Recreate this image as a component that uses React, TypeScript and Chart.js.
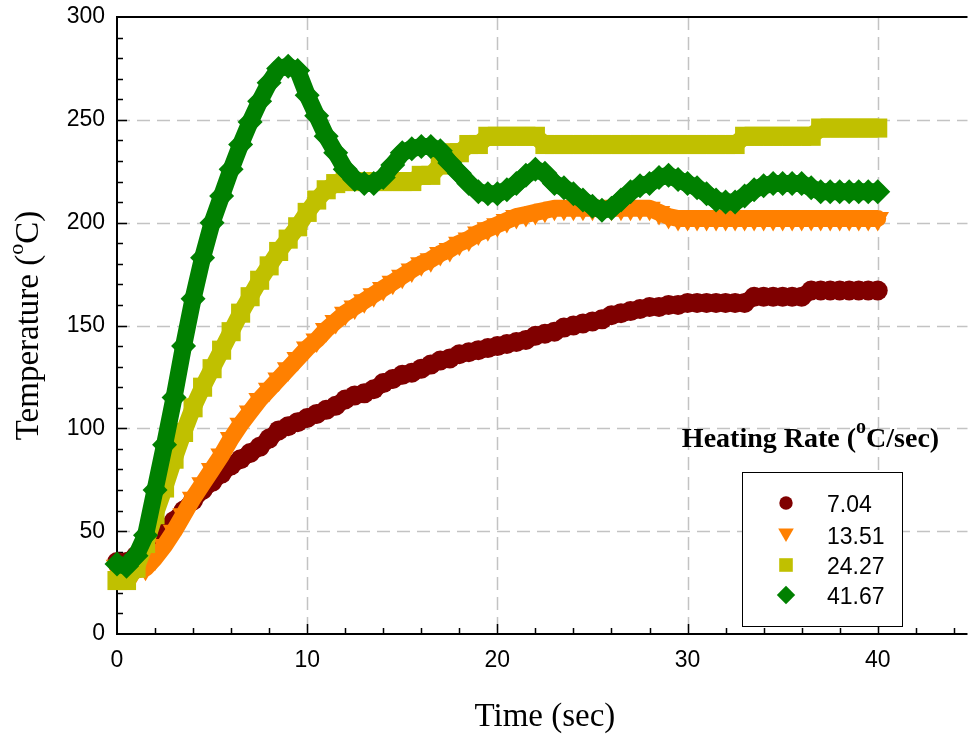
import React, { useEffect, useRef } from 'react';
import { Chart, registerables } from 'chart.js';

Chart.register(...registerables);

// ---- data ----
const TIME_SEC = [
  0, 0.5, 1, 1.5, 2, 2.5, 3, 3.5, 4, 4.5,
  5, 5.5, 6, 6.5, 7, 7.5, 8, 8.5, 9, 9.5,
  10, 10.5, 11, 11.5, 12, 12.5, 13, 13.5, 14, 14.5,
  15, 15.5, 16, 16.5, 17, 17.5, 18, 18.5, 19, 19.5,
  20, 20.5, 21, 21.5, 22, 22.5, 23, 23.5, 24, 24.5,
  25, 25.5, 26, 26.5, 27, 27.5, 28, 28.5, 29, 29.5,
  30, 30.5, 31, 31.5, 32, 32.5, 33, 33.5, 34, 34.5,
  35, 35.5, 36, 36.5, 37, 37.5, 38, 38.5, 39, 39.5,
  40,
];

const RATE_7_04 = [
  35, 35, 38, 42, 46, 51, 55, 60, 65, 70,
  74, 78, 82, 85, 88, 91, 95, 99, 101, 103,
  105, 107, 109, 111, 114, 116, 117, 119, 122, 124,
  126, 127, 129, 131, 133, 134, 136, 137, 138, 139,
  140, 141, 142, 143, 145, 146, 147, 149, 150, 151,
  152, 153, 155, 156, 157, 158, 159, 159, 160, 160,
  161, 161, 161, 161, 161, 161, 161, 164, 164, 164,
  164, 164, 164, 167, 167, 167, 167, 167, 167, 167,
  167,
];

const RATE_13_51 = [
  33, 31, 31, 32, 37, 43, 50, 58, 66, 73,
  80, 87, 95, 102, 108, 114, 119, 124, 129, 134,
  139, 143, 148, 152, 156, 159, 162, 165, 168, 171,
  174, 177, 180, 182, 185, 187, 190, 192, 195, 197,
  199, 201, 203, 204, 205, 206, 207, 207, 207, 207,
  207, 207, 207, 207, 207, 207, 207, 205, 203, 202,
  202, 202, 202, 202, 202, 202, 202, 202, 202, 202,
  202, 202, 202, 202, 202, 202, 202, 202, 202, 202,
  202,
];

const RATE_24_27 = [
  26, 26, 32, 44, 58, 71, 85, 98, 110, 120,
  129, 138, 147, 156, 164, 172, 179, 186, 192, 198,
  205, 211, 216, 219, 220, 220, 220, 220, 220, 220,
  220, 220, 223, 223, 228, 234, 234, 238, 238, 242,
  242, 242, 242, 242, 242, 238, 238, 238, 238, 238,
  238, 238, 238, 238, 238, 238, 238, 238, 238, 238,
  238, 238, 238, 238, 238, 238, 242, 242, 242, 242,
  242, 242, 242, 242, 246, 246, 246, 246, 246, 246,
  246,
];

const RATE_41_67 = [
  34, 33, 38, 48, 70, 92, 115, 140, 163, 183,
  200, 213, 226, 238, 249, 259, 268, 275, 276, 274,
  262, 252, 242, 234, 226, 221, 219, 219, 222, 228,
  234, 236, 237, 237, 235, 229, 224, 219, 215, 214,
  214, 216, 219, 223, 226, 224, 219, 217, 214, 211,
  208, 206, 207, 211, 215, 218, 219, 222, 223, 221,
  219, 217, 214, 211, 210, 210, 213, 216, 218, 219,
  219, 219, 219, 217, 215, 215, 215, 215, 215, 215,
  215,
];

const SERIES_NAMES = ['7.04', '13.51', '24.27', '41.67'];
const X_LABEL_TICKS = [0, 10, 20, 30, 40];
const Y_LABEL_TICKS = [0, 50, 100, 150, 200, 250, 300];

// ---- styling ----
const SANS = '"Liberation Sans", Arial, sans-serif';
const SERIF = '"Liberation Serif", "Times New Roman", serif';
const COLORS = ['#800000', '#FF8000', '#C0C000', '#008000'];
const X_MAX = 44.72;
const VIEW_W = 968;
const CANVAS_W = 981;
const CANVAS_H = 735;

type Part = { text: string; font: string; dy?: number };

function drawRich(ctx: CanvasRenderingContext2D, parts: Part[], x: number, y: number) {
  let total = 0;
  for (const p of parts) {
    ctx.font = p.font;
    total += ctx.measureText(p.text).width;
  }
  let cx = x - total / 2;
  ctx.textAlign = 'left';
  ctx.textBaseline = 'alphabetic';
  for (const p of parts) {
    ctx.font = p.font;
    ctx.fillText(p.text, cx, y + (p.dy || 0));
    cx += ctx.measureText(p.text).width;
  }
}

function drawMarker(ctx: CanvasRenderingContext2D, kind: number, x: number, y: number, color: string) {
  ctx.fillStyle = color;
  ctx.beginPath();
  if (kind === 0) {
    ctx.arc(x, y, 6.7, 0, Math.PI * 2);
  } else if (kind === 1) {
    ctx.moveTo(x - 7.8, y - 6.5);
    ctx.lineTo(x + 7.8, y - 6.5);
    ctx.lineTo(x, y + 7);
  } else if (kind === 2) {
    ctx.rect(x - 6.8, y - 6.8, 13.6, 13.6);
  } else {
    ctx.moveTo(x, y - 9.2);
    ctx.lineTo(x + 9.2, y);
    ctx.lineTo(x, y + 9.2);
    ctx.lineTo(x - 9.2, y);
  }
  ctx.closePath();
  ctx.fill();
}

const decorPlugin = {
  id: 'decor',
  beforeDatasetsDraw(chart: any) {
    const { ctx, chartArea: a, scales } = chart;
    const xs = scales.x;
    const ys = scales.y;
    ctx.save();
    // dashed grid
    ctx.strokeStyle = '#c3c3c3';
    ctx.lineWidth = 1.5;
    ctx.setLineDash([13, 7]);
    for (const v of X_LABEL_TICKS) {
      if (v === 0) continue;
      const px = Math.round(xs.getPixelForValue(v)) + 0.5;
      ctx.beginPath();
      ctx.moveTo(px, a.top);
      ctx.lineTo(px, a.bottom);
      ctx.stroke();
    }
    for (const v of Y_LABEL_TICKS) {
      if (v === 0 || v === 300) continue;
      const py = Math.round(ys.getPixelForValue(v)) + 0.5;
      ctx.beginPath();
      ctx.moveTo(a.left, py);
      ctx.lineTo(a.right, py);
      ctx.stroke();
    }
    ctx.setLineDash([]);
    // axes
    ctx.strokeStyle = '#000';
    ctx.lineWidth = 2;
    ctx.beginPath();
    ctx.moveTo(a.left, a.top);
    ctx.lineTo(a.left, a.bottom);
    ctx.moveTo(a.left - 1, a.bottom);
    ctx.lineTo(a.right, a.bottom);
    ctx.moveTo(a.left - 1, a.top);
    ctx.lineTo(a.right, a.top);
    ctx.stroke();
    // inward ticks
    ctx.lineWidth = 1.5;
    ctx.beginPath();
    for (let v = 10; v < 300; v += 10) {
      const py = Math.round(ys.getPixelForValue(v)) + 0.5;
      const len = v % 50 === 0 ? 10 : 6;
      ctx.moveTo(a.left, py);
      ctx.lineTo(a.left + len, py);
    }
    for (let v = 2; v <= X_MAX; v += 2) {
      const px = Math.round(xs.getPixelForValue(v)) + 0.5;
      const len = v % 10 === 0 ? 10 : 6;
      ctx.moveTo(px, a.bottom);
      ctx.lineTo(px, a.bottom - len);
    }
    ctx.stroke();
    ctx.restore();
  },
  afterDraw(chart: any) {
    const { ctx, scales } = chart;
    const xs = scales.x;
    const ys = scales.y;
    ctx.save();
    ctx.fillStyle = '#000';
    // x title
    drawRich(ctx, [{ text: 'Time (sec)', font: `33px ${SERIF}` }], xs.getPixelForValue(22.5), 726);
    // y title
    ctx.save();
    ctx.translate(38, ys.getPixelForValue(150));
    ctx.rotate(-Math.PI / 2);
    drawRich(
      ctx,
      [
        { text: 'Temperature (', font: `33px ${SERIF}` },
        { text: 'o', font: `22px ${SERIF}`, dy: -15 },
        { text: 'C)', font: `33px ${SERIF}` },
      ],
      0,
      0
    );
    ctx.restore();
    // legend title
    ctx.fillStyle = '#000';
    drawRich(
      ctx,
      [
        { text: 'Heating Rate (', font: `bold 28px ${SERIF}` },
        { text: 'o', font: `bold 20px ${SERIF}`, dy: -14 },
        { text: 'C/sec)', font: `bold 28px ${SERIF}` },
      ],
      810.5,
      447
    );
    // legend box
    ctx.fillStyle = '#fff';
    ctx.fillRect(742.5, 472.5, 160, 154);
    ctx.strokeStyle = '#000';
    ctx.lineWidth = 1;
    ctx.strokeRect(742.5, 472.5, 160, 154);
    const rows = [503, 535, 565, 595];
    SERIES_NAMES.forEach((name, i) => {
      drawMarker(ctx, i, 786, rows[i], COLORS[i]);
      ctx.fillStyle = '#000';
      ctx.font = `23px ${SANS}`;
      ctx.textAlign = 'left';
      ctx.textBaseline = 'alphabetic';
      ctx.fillText(name, 827, rows[i] + 8.5);
    });
    ctx.restore();
  },
};

const SERIES_VALUES = [RATE_7_04, RATE_13_51, RATE_24_27, RATE_41_67];
const POINT_STYLES = ['circle', 'triangle', 'rect', 'rectRot'];
const POINT_RADII = [10, 13, 13.5, 12.5];
const POINT_ROT = [0, 180, 0, 0];

export default function App() {
  const ref = useRef<HTMLCanvasElement | null>(null);

  useEffect(() => {
    document.body.style.margin = '0';
    const canvas = ref.current;
    if (!canvas) return;
    const datasets = SERIES_VALUES.map((vals, i) => ({
      label: SERIES_NAMES[i],
      data: TIME_SEC.map((t, k) => ({ x: t, y: vals[k] })),
      showLine: true,
      borderColor: COLORS[i],
      borderWidth: 17,
      borderJoinStyle: 'round',
      borderCapStyle: 'round',
      backgroundColor: COLORS[i],
      pointStyle: POINT_STYLES[i],
      pointRadius: POINT_RADII[i],
      pointBackgroundColor: COLORS[i],
      pointBorderColor: COLORS[i],
      pointBorderWidth: 0,
      pointRotation: POINT_ROT[i],
      tension: 0,
      order: 3 - i,
      clip: false as any,
    }));

    const chart = new Chart(canvas, {
      type: 'line',
      data: { datasets },
      options: {
        animation: false,
        responsive: false,
        maintainAspectRatio: false,
        layout: { padding: { top: 17, right: 0, left: 0, bottom: 0 } },
        plugins: { legend: { display: false }, tooltip: { enabled: false } },
        events: [],
        scales: {
          x: {
            type: 'linear',
            min: 0,
            max: X_MAX,
            afterBuildTicks: (s: any) => {
              s.ticks = X_LABEL_TICKS.map((v) => ({ value: v }));
            },
            afterFit: (s: any) => {
              s.height = 101;
              s.paddingLeft = 0;
              s.paddingTop = 0;
              s.paddingBottom = 0;
            },
            grid: { display: false, drawTicks: false },
            border: { display: false },
            ticks: {
              autoSkip: false,
              maxRotation: 0,
              padding: 13,
              color: '#000',
              font: { family: SANS, size: 23 },
              callback: (v: any) => String(v),
            },
          },
          y: {
            type: 'linear',
            min: 0,
            max: 300,
            afterBuildTicks: (s: any) => {
              s.ticks = Y_LABEL_TICKS.map((v) => ({ value: v }));
            },
            afterFit: (s: any) => {
              s.width = 117;
              s.paddingLeft = 0;
              s.paddingRight = 0;
              s.paddingTop = 0;
              s.paddingBottom = 0;
            },
            grid: { display: false, drawTicks: false },
            border: { display: false },
            ticks: {
              autoSkip: false,
              padding: 12,
              color: '#000',
              font: { family: SANS, size: 23 },
              callback: (v: any) => String(v),
            },
          },
        },
      } as any,
      plugins: [decorPlugin],
    });
    return () => chart.destroy();
  }, []);

  return (
    <div style={{ width: VIEW_W, height: CANVAS_H, overflow: 'hidden' }}>
      <canvas ref={ref} width={CANVAS_W} height={CANVAS_H} style={{ display: 'block' }} />
    </div>
  );
}
